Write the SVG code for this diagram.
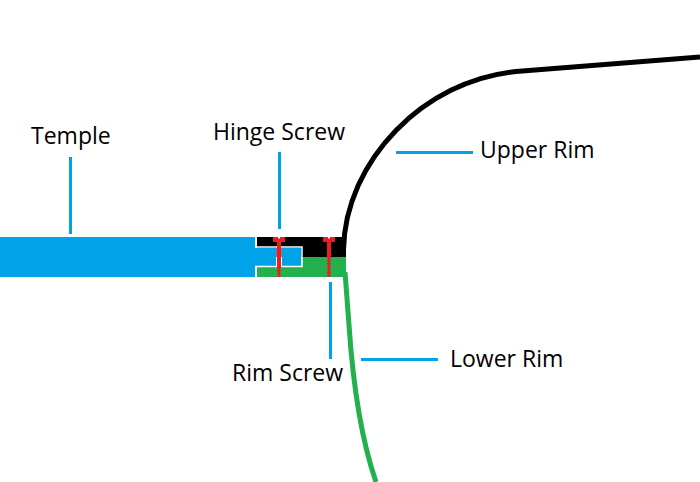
<svg xmlns="http://www.w3.org/2000/svg" width="700" height="482" viewBox="0 0 700 482">
<style>
text{font-family:"Open Sans","Noto Sans","Liberation Sans",sans-serif;font-size:23px;fill:#000}
.lead{stroke:#00a2e8;stroke-width:3;fill:none}
.rim{fill:none;stroke-width:5}
.red{fill:#ed1c24}
.thread{stroke:#ed1c24;stroke-width:4;stroke-dasharray:1.500 1.500;fill:none}
</style>
<rect width="700" height="482" fill="#fff"/>
<g id="upper-rim"><path class="rim" stroke="#000" d="M343.500 250C345 160 425 80 516 71.500L700 57"/></g>
<g id="lower-rim"><path class="rim" stroke="#22b14c" d="M345 272L349 325C352 370 358 430 376 482"/></g>
<g id="hinge-block">
<rect x="257" y="237" width="89" height="20" fill="#000"/>
<rect x="257" y="247" width="45" height="10" fill="#000"/>
<rect x="302" y="257" width="44" height="20" fill="#22b14c"/>
<rect x="257" y="267" width="46" height="10" fill="#22b14c"/>
</g>
<g id="temple">
<rect x="0" y="237" width="255" height="40" fill="#00a2e8"/>
<path d="M255 248H276V266H255Z" fill="#00a2e8"/>
<rect x="282" y="248" width="19" height="18" fill="#00a2e8"/>
<path d="M256 237V247H302V266.500H256V277" fill="none" stroke="#fff" stroke-width="1.500"/>
<path d="M279 247V266" stroke="#fff" stroke-width="5"/>
</g>
<g id="hinge-screw">
<rect class="red" x="273" y="237" width="12" height="5"/>
<rect class="red" x="277" y="242" width="4" height="25"/>
<rect class="red" x="278" y="267" width="2" height="10"/>
<path class="thread" d="M279 267V277"/>
<rect x="278" y="237" width="2" height="1.500" fill="#fff"/>
</g>
<g id="rim-screw">
<rect class="red" x="323" y="237" width="12" height="5"/>
<rect class="red" x="327" y="242" width="4" height="15"/>
<rect class="red" x="328" y="257" width="2" height="20"/>
<path class="thread" d="M329 257V277"/>
<rect x="328" y="237" width="2" height="1.500" fill="#fff"/>
</g>
<g id="connectors">
<path class="lead" d="M70.500 157V234"/>
<path class="lead" d="M279.500 152V229"/>
<path class="lead" d="M330.500 282V359"/>
<path class="lead" d="M396 152.500H473"/>
<path class="lead" d="M361 359.500H438"/>
</g>
<g id="labels">
<text x="31" y="144">Temple</text>
<text x="213" y="140">Hinge Screw</text>
<text x="232" y="381">Rim Screw</text>
<text x="480" y="158">Upper Rim</text>
<text x="450" y="367">Lower Rim</text>
</g>
</svg>
